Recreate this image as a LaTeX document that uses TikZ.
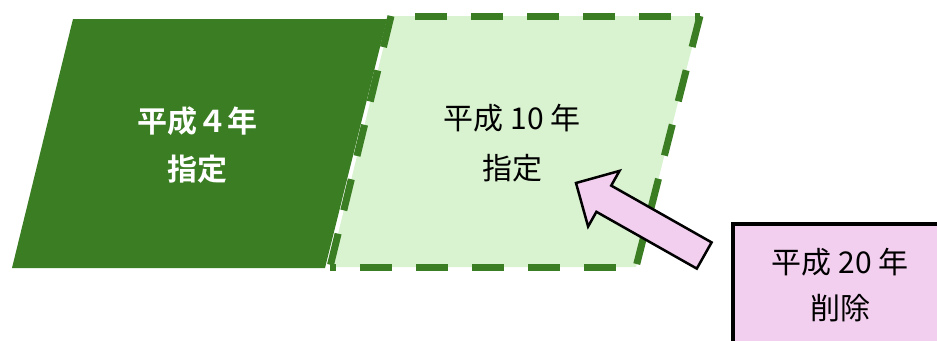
\documentclass[tikz,border=0pt]{standalone}
\usepackage{fontspec}
\newfontfamily\cjk{Noto Sans CJK JP}
\newfontfamily\cjkbold{Noto Sans CJK JP Bold}
\definecolor{darkgreen}{HTML}{3B7D23}
\definecolor{lightgreen}{HTML}{D9F2D0}
\definecolor{pinkfill}{HTML}{F2CEEF}
\begin{document}
\begin{tikzpicture}[x=1pt,y=-1pt,
  greenfill/.style={fill=darkgreen},
  lightshape/.style={fill=lightgreen},
  dashedge/.style={draw=darkgreen,line width=7pt,dash pattern=on 32pt off 24pt},
  blockarrow/.style={fill=pinkfill,draw=black,line width=2.5pt,line join=miter},
  boxstyle/.style={fill=pinkfill,draw=black,line width=4pt},
  lbl/.style={align=center,inner sep=0pt}
]
\useasboundingbox (0,0) rectangle (937,340);
\begin{scope}
\clip (0,0) rectangle (937,340);
% dark parallelogram
\fill[greenfill] (73,19) -- (387,19) -- (325,268) -- (12,268) -- cycle;
% light parallelogram
\coordinate (LTL) at (391,16);
\coordinate (LTR) at (700,16);
\coordinate (LBR) at (636,267);
\coordinate (LBL) at (330,267);
\fill[lightshape] (LTL) -- (LTR) -- (LBR) -- (LBL) -- cycle;
% dashed outline
\draw[dashedge] (LTL) -- (LBL);
\draw[dashedge] (LTR) -- (LBR);
\draw[dashedge,dash phase=32pt] (LTL) -- (LTR);
\draw[dashedge,dash phase=36pt] (LBR) -- (LBL);
% block arrow
\coordinate (T) at (576,183);
\coordinate (H1) at (619.5,170.9);
\coordinate (I1) at (611.2,185.6);
\coordinate (E1) at (711.6,242.4);
\coordinate (E2) at (696.8,268.6);
\coordinate (I2) at (596.4,211.8);
\coordinate (H2) at (588.1,226.5);
\draw[blockarrow] (T) -- (H1) -- (I1) -- (E1) -- (E2) -- (I2) -- (H2) -- cycle;
% box
\draw[boxstyle] (733,224) rectangle (960,370);
\end{scope}
% labels
\node[lbl,text=white,font=\cjkbold\fontsize{30}{48}\selectfont] (a) at (197,145) {平成４年\\指定};
\node[lbl,text=black,font=\cjk\fontsize{30}{50}\selectfont] (b) at (512,143) {平成 10 年\\指定};
\node[lbl,text=black,font=\cjk\fontsize{30}{46}\selectfont] (c) at (840,285) {平成 20 年\\削除};
\end{tikzpicture}
\end{document}
